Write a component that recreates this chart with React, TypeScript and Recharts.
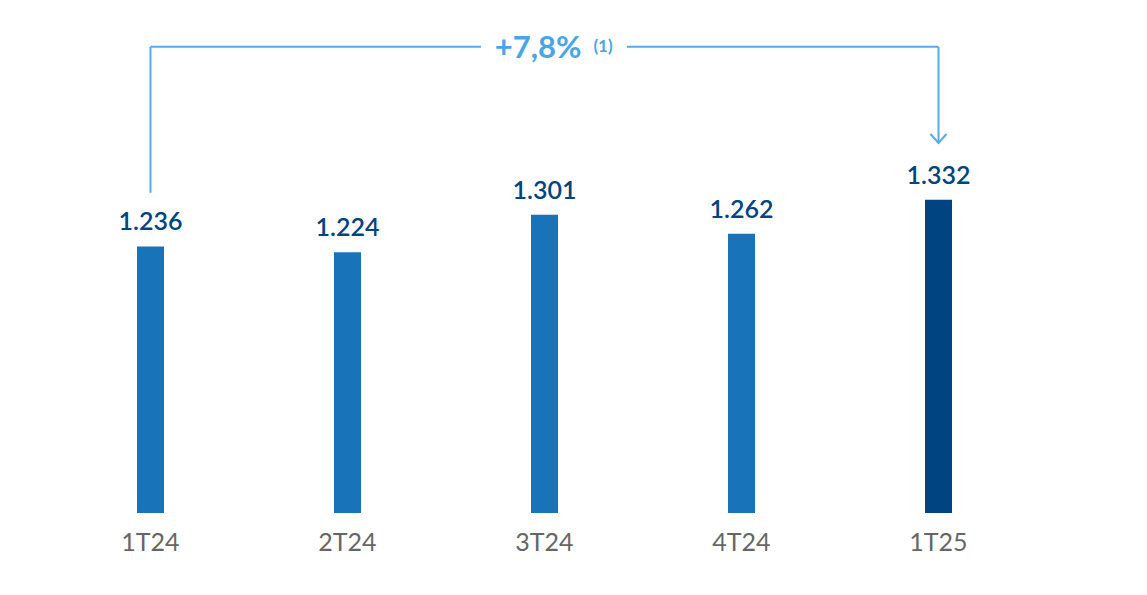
import React from "react";
import {
  BarChart,
  Bar,
  XAxis,
  YAxis,
  Cell,
  LabelList,
  ReferenceLine,
  ReferenceDot,
} from "recharts";

const quarters = ["1T24", "2T24", "3T24", "4T24", "1T25"];
const values = [1236, 1224, 1301, 1262, 1332];
const barColors = ["#1973b8", "#1973b8", "#1973b8", "#1973b8", "#004481"];

// annotation bracket, in axis units
const growthLabel = "+7,8%";
const growthNote = "(1)";
const bracketTop = 1645;
const bracketStart = 1346;
const bracketEnd = 1448;

const data = quarters.map((q, i) => ({ quarter: q, value: values[i] }));

const fmt = (v: number) =>
  v.toString().replace(/\B(?=(\d{3})+(?!\d))/g, ".");

const FONT = "Lato, 'Open Sans', sans-serif";
const LINE = "#55abe6";

const GrowthLabel = (props: any) => {
  const { viewBox } = props;
  const y = viewBox.y;
  return (
    <g>
      <rect x={473} y={y - 16} width={146} height={32} fill="#fff" />
      <text
        x={530}
        y={y + 11}
        textAnchor="middle"
        fontFamily={FONT}
        fontWeight={700}
        fontSize={31}
        fill="#49a5e6"
      >
        {growthLabel}
      </text>
      <text
        x={595}
        y={y + 5}
        textAnchor="middle"
        fontFamily={FONT}
        fontWeight={700}
        fontSize={17}
        fill="#49a5e6"
      >
        {growthNote}
      </text>
    </g>
  );
};

const Arrow = (props: any) => {
  const { cx, cy } = props;
  return (
    <path
      d={`M${cx - 8},${cy - 9} L${cx},${cy} L${cx + 8},${cy - 9}`}
      stroke={LINE}
      strokeWidth={2}
      fill="none"
    />
  );
};

export default function App() {
  return (
    <div style={{ width: 1131, height: 570, background: "#fff" }}>
      <BarChart
        width={1131}
        height={570}
        data={data}
        margin={{ top: 12, right: 102, bottom: 35, left: 44 }}
      >
        <XAxis
          dataKey="quarter"
          axisLine={false}
          tickLine={false}
          tickSize={0}
          tickMargin={20}
          tick={{ fill: "#666", fontSize: 25, fontFamily: FONT, fontWeight: 400 }}
          interval={0}
        />
        <YAxis hide domain={[690, 1700]} allowDataOverflow />
        <Bar dataKey="value" barSize={27} isAnimationActive={false}>
          {data.map((d, i) => (
            <Cell key={d.quarter} fill={barColors[i]} />
          ))}
          <LabelList
            dataKey="value"
            position="top"
            offset={16}
            formatter={(v: any) => fmt(Number(v))}
            style={{
              fill: "#004481",
              fontSize: 25,
              fontFamily: FONT,
              fontWeight: 600,
            }}
          />
        </Bar>
        <ReferenceLine
          segment={[
            { x: quarters[0], y: bracketStart },
            { x: quarters[0], y: bracketTop },
          ]}
          stroke={LINE}
          strokeWidth={2}
          ifOverflow="visible"
        />
        <ReferenceLine
          segment={[
            { x: quarters[0], y: bracketTop },
            { x: quarters[4], y: bracketTop },
          ]}
          stroke={LINE}
          strokeWidth={2}
          ifOverflow="visible"
          label={<GrowthLabel />}
        />
        <ReferenceLine
          segment={[
            { x: quarters[4], y: bracketTop },
            { x: quarters[4], y: bracketEnd },
          ]}
          stroke={LINE}
          strokeWidth={2}
          ifOverflow="visible"
        />
        <ReferenceDot
          x={quarters[4]}
          y={bracketEnd}
          r={0}
          ifOverflow="visible"
          shape={<Arrow />}
        />
      </BarChart>
    </div>
  );
}
